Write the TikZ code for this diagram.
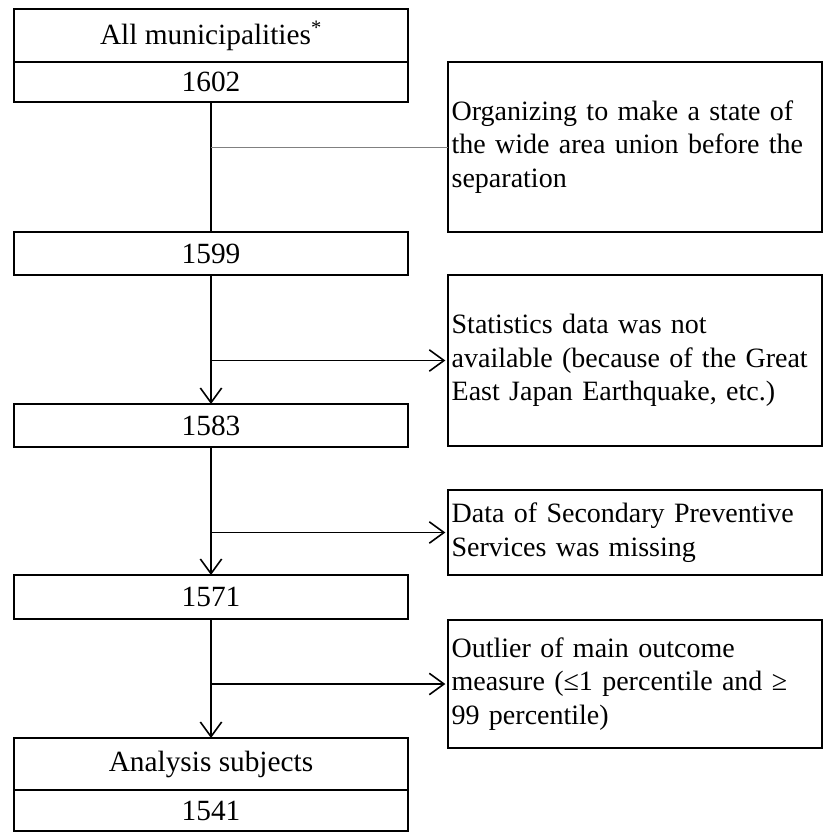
\documentclass[tikz,border=0pt]{standalone}
\usepackage{fontspec}
\setmainfont{Liberation Serif}
\usetikzlibrary{arrows.meta}

\begin{document}
\begin{tikzpicture} [x=0.75pt,y=-0.75pt,
		box/.style={draw,line width=0.9pt,minimum width=295.5pt,inner sep=0pt,outer sep=0pt,font=\fontsize{22}{25}\selectfont},
		side/.style={draw,line width=0.9pt,text width=275pt,inner xsep=2.75pt,inner ysep=0pt,outer sep=0pt,align=left,font=\fontsize{21}{25}\selectfont},
		trunk/.style={line width=1.8pt},
		branch/.style={line width=1.2pt},
		>={Straight Barb[length=11pt,width=16pt,line width=1.2pt]}]
			\useasboundingbox (0,0) rectangle (834,832);
			
			\node[box,minimum height=39.75pt] (all) at (211,35.5) {All municipalities\textsuperscript{*}};
			\node[box,minimum height=30pt] (n1602) at (211,82) {1602};
			\node[box,minimum height=32.25pt] (n1599) at (211,253.5) {1599};
			\node[box,minimum height=32.25pt] (n1583) at (211,425.5) {1583};
			\node[box,minimum height=33pt] (n1571) at (211,597) {1571};
			\node[box,minimum height=39pt] (subj) at (211,764) {Analysis subjects};
			\node[box,minimum height=30.75pt] (n1541) at (211,810.5) {1541};
			
			\node[side,minimum height=127.5pt] (r1) at (635,147) {Organizing to make a state of\\the wide area union before the\\separation};
			\node[side,minimum height=128.25pt] (r2) at (635,360.5) {Statistics data was not\\available (because of the Great\\East Japan Earthquake, etc.)};
			\node[side,minimum height=63.75pt] (r3) at (635,532.5) {Data of Secondary Preventive\\Services was missing};
			\node[side,minimum height=96pt] (r4) at (635,684) {Outlier of main outcome\\measure (≤1 percentile and ≥\\99 percentile)};
			
			\draw[trunk] (n1602.south) -- (n1599.north);
			\draw[gray,line width=0.6pt] (n1602.south |- r1.west) -- (r1.west);
			\foreach \a/\b/\r in {n1599/n1583/r2,n1583/n1571/r3,n1571/subj/r4} {
				\draw[trunk,->] (\a.south) -- (\b.north);
				\draw[branch,->,shorten >=2pt] (\a.south |- \r.west) -- (\r.west);
			}
			\end{tikzpicture}
\end{document}
